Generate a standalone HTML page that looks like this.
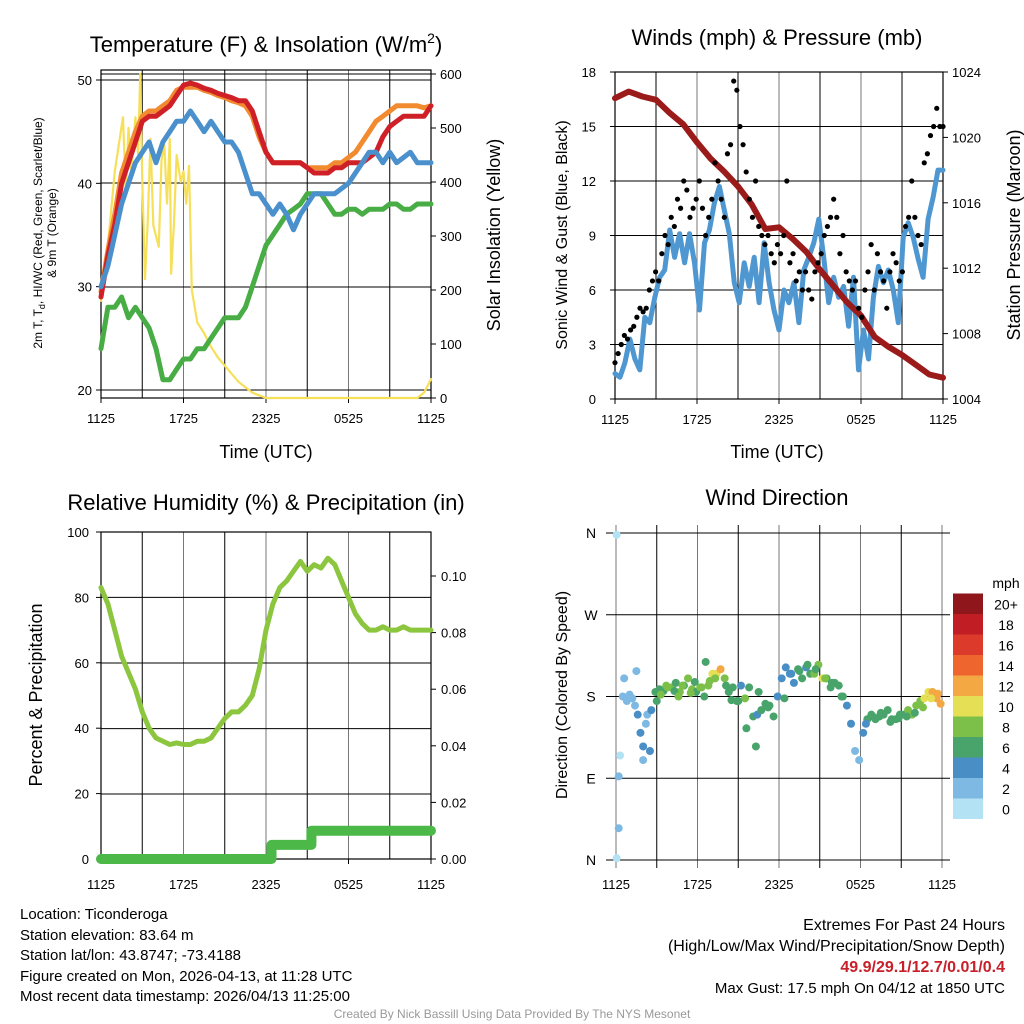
<!DOCTYPE html>
<html><head><meta charset="utf-8">
<style>
body{margin:0;background:#fff;font-family:"Liberation Sans",sans-serif;}
svg text{font-family:"Liberation Sans",sans-serif;fill:#000;}
.info{position:absolute;font-size:15px;line-height:20.5px;}
</style></head>
<body>
<svg id="chart" width="1024" height="1024" viewBox="0 0 1024 1024" style="position:absolute;left:0;top:0"></svg>
<div class="info" style="left:20px;top:905px;">
Location: Ticonderoga<br>Station elevation: 83.64 m<br>Station lat/lon: 43.8747; -73.4188<br>Figure created on Mon, 2026-04-13, at 11:28 UTC<br>Most recent data timestamp: 2026/04/13 11:25:00</div>
<div class="info" style="right:19px;top:915px;text-align:right;line-height:21px;font-size:16px;">
Extremes For Past 24 Hours<br>(High/Low/Max Wind/Precipitation/Snow Depth)<br><b style="color:#c8202a">49.9/29.1/12.7/0.01/0.4</b><br><span style="font-size:15px">Max Gust: 17.5 mph On 04/12 at 1850 UTC</span></div>
<div style="position:absolute;left:0;width:1024px;top:1007px;text-align:center;font-size:12px;color:#999;">Created By Nick Bassill Using Data Provided By The NYS Mesonet</div>
<script>
// ---------- data (starting 1125 UTC, evenly spaced over 24 h) ----------
const xTickLabels=["1125","1725","2325","0525","1125"];
const tempRed=[29,33,36,40,42,44,46,46.5,46.5,47,47.5,48.5,49.5,49.7,49.5,49.2,49,48.7,48.5,48.3,48,48,47,45,43,42,42,42,42,42,41.5,41,41,41,41.5,41.5,42,42,42,42.5,43,44.5,45.5,46,46.5,46.5,46.5,46.5,47.5];
const tempOrange=[29.5,33.5,37,41,43,45,46.5,47,47,47.5,48,49,49.3,49.3,49.3,49,48.8,48.5,48.3,48,47.8,47.5,46.5,44.5,43,42,42,42,42,42,41.5,41.5,41.5,41.5,42,42,42.5,43,44,45,46,46.5,47,47.5,47.5,47.5,47.5,47.3,47.5];
const tempBlue=[30,32,35,38,40,42,43,44,42,44,45,46,46,47,46,45,46,45,44,44,43,41,39,39,38,37,38,37,35.5,37,38,39,39,39,39,39.5,40,41,42,43,43,42,43,42,42.5,43,42,42,42];
const dewGreen=[24,28,28,29,27,28,27,26,24,21,21,22,23,23,24,24,25,26,27,27,27,28,30,32,34,35,36,37,37.5,38,39,39,39,38,37,37,37.5,37.5,37,37.5,37.5,37.5,38,38,37.5,37.5,38,38,38];
const solarHours=[0,0.3,0.6,1,1.3,1.6,1.8,2,2.2,2.5,2.7,2.85,3,3.2,3.4,3.6,3.8,4,4.2,4.4,4.6,4.8,5,5.1,5.3,5.5,5.8,6,6.2,6.4,6.6,7,7.5,8,8.5,9,9.5,10,10.5,11,11.5,12,16,20,23,23.5,24];
const solarVals=[180,240,310,420,470,520,380,500,420,520,450,600,400,220,330,480,320,300,280,440,470,360,480,230,320,450,400,420,360,430,200,140,120,95,75,60,45,30,20,10,5,0,0,0,0,10,35];
const windBlue=[1.4,1.2,2,3.3,2.2,1.6,4.5,4.2,5.6,6.7,7.1,9.3,7.8,9.1,7.5,9.1,7.5,4.9,8.6,9.3,10.8,11.7,10.4,9.1,6.4,5.3,7.5,6.2,7.8,5.3,8.6,6.4,4.9,3.8,6,5.3,6.4,4.2,7.1,7.8,8.6,9.9,7.8,5.3,6.7,5.6,6.2,4,6.7,1.6,3.8,2.2,5.6,7.3,6.4,7.1,6,4.2,8.9,9.7,8.9,7.7,6.7,9.9,11.1,12.6,12.6];
const gustBlack=[2,2.5,3,3.5,3.3,3.8,4,4.5,5,4.8,5,6,6.5,7,6.5,8,9,8.5,10,9.5,11,10.5,12,11.5,10,10.5,11,12,10.5,9,10,11,13,12,11,10,13.5,14,17.5,17,15,14,12.5,11,10,12,9.5,9,8.5,9,8,7.5,8.5,8,9,12,7.5,8,6.5,7,6,7,6,5.5,7,7.5,8,9,9.5,10,11,10,8,9,7,6.5,6,6.5,5,4.5,6,7,8.5,6,8,7,6.5,5,7,8,7.5,6.5,7,9.5,10,12,10,9,8.5,13,13.5,14.5,15,16,15,15];
const pressure=[1022.4,1022.8,1022.5,1022.3,1021.5,1020.8,1019.7,1018.7,1017.9,1017.0,1015.9,1014.4,1014.5,1013.8,1013.0,1011.9,1010.9,1009.9,1009.1,1007.8,1007.2,1006.7,1006.1,1005.5,1005.3];
const rhGreen=[83,78,70,62,57,52,45,40,37,36,35,35.5,35,35,36,36,37,40,43,45,45,47,50,58,70,78,83,85,88,91,88,90,89,92,90,85,80,75,72,70,70,71,70,70,71,70,70,70,70];
const precipHours=[0,12.4,12.4,15.3,15.3,24];
const precipVals=[0,0,0.005,0.005,0.01,0.01];
const dirHours=[0.05,0.05,0.2,0.2,0.3,0.5,0.6,0.8,1.0,1.2,1.4,1.6,1.8,2.0,2.3,2.6,2.9,3.2,3.5,3.8,4.1,4.4,4.7,5.0,5.3,5.6,5.9,6.2,6.5,6.8,7.1,7.4,7.7,8.0,8.3,8.6,8.9,9.2,9.5,9.8,10.1,10.4,10.7,11.0,11.3,11.6,11.9,12.2,12.5,12.8,13.1,13.4,13.7,14.0,14.3,14.6,14.9,15.2,15.5,15.8,16.1,16.4,16.7,17.0,17.3,17.6,17.9,18.2,18.5,18.8,19.1,19.4,19.7,20.0,20.3,20.6,20.9,21.2,21.5,21.8,22.1,22.4,22.7,23.0,23.3,23.6,23.9,1.5,2.2,2.5,2.0,6.6,9.0,9.6,10.3,
3.0,3.3,3.7,4.3,4.6,4.9,5.5,5.8,6.3,6.9,7.3,8.1,8.5,10.5,11.2,12.4,12.9,13.5,14.1,14.7,15.4,15.9,16.6,18.4,18.9,19.5,20.2,20.8,21.4,22.0,22.6,23.2,23.7];
const dirDegs=[358,2,92,35,115,180,200,175,182,178,170,160,140,110,160,165,185,188,186,190,190,195,185,192,200,188,185,190,180,192,205,205,210,200,185,190,175,192,178,190,158,160,165,172,170,158,180,200,212,205,195,210,200,212,205,205,215,200,200,190,195,192,180,170,150,120,110,140,155,160,155,158,160,165,155,155,160,160,165,160,170,175,178,185,185,178,172,208,150,120,125,218,175,145,125,
175,182,192,186,180,192,184,196,190,197,200,192,176,185,168,178,205,208,215,210,200,195,180,150,158,162,152,156,158,162,168,178,183];
const dirSpeeds=[1,1,2,2,1,2,2,2,2,3,2,4,4,3,3,4,6,6,7,8,8,7,8,7,8,8,6,8,6,8,10,11,12,9,7,6,6,4,8,7,6,5,6,6,7,6,4,5,4,4,5,6,7,5,6,8,8,10,7,7,6,6,6,4,4,3,3,4,6,6,6,6,6,7,6,7,7,7,8,8,8,9,10,11,12,12,12,2,3,4,4,6,6,6,6,
6,8,8,7,8,8,8,7,8,8,9,7,6,6,7,6,4,6,6,7,8,7,7,4,6,6,6,6,7,7,8,10,12];
const speedBins=["0","2","4","6","8","10","12","14","16","18","20+"];
const speedColors=["#b4e2f5","#7db9e2","#4a8ec6","#49a46b","#7cc049","#e5df55","#f4a843","#ee652e","#dc3a2a","#c01e24","#8f161a"];

// ---------- helpers ----------
const NS="http://www.w3.org/2000/svg";
const svg=document.getElementById('chart');
function mk(tag,attrs,parent){const e=document.createElementNS(NS,tag);for(const k in attrs)e.setAttribute(k,attrs[k]);(parent||svg).appendChild(e);return e;}
function txt(s,x,y,size,anchor,parent,rot){const t=mk('text',{x:x,y:y,'font-size':size,'text-anchor':anchor||'middle'},parent);if(rot)t.setAttribute('transform','rotate(-90 '+x+' '+y+')');t.textContent=s;return t;}
function lin(x0,x1,d0,d1){return v=>x0+(v-d0)/(d1-d0)*(x1-x0);}

function panel(name,L,R,T,B,xs,labOff,hGridPx){
  const g=mk('g',{});
  
  
  for(let i=0;i<=8;i++){const x=xs(i*3);mk('line',{x1:x,x2:x,y1:T,y2:B,stroke:(i%2? '#000':'#777'),'stroke-width':1},g);}
  hGridPx.forEach(y=>mk('line',{x1:L,x2:R,y1:y,y2:y,stroke:'#000','stroke-width':1},g));
  mk('rect',{x:L,y:T,width:R-L,height:B-T,fill:'none',stroke:'#000','stroke-width':1.2},g);
  xTickLabels.forEach((s,i)=>{const x=xs(i*6);mk('line',{x1:x,x2:x,y1:B,y2:B+5,stroke:'#000'},g);const t=txt(s,x,B+labOff,13,'middle',g);});
  return g;
}
function path(g,pts,color,w,nm){const p=mk('polyline',{points:pts.map(p=>p[0].toFixed(1)+','+p[1].toFixed(1)).join(' '),fill:'none',stroke:color,'stroke-width':w,'stroke-linejoin':'round','stroke-linecap':'round'},g);return p;}

// ---------- Panel 1: temperature ----------
(function(){
  const L=101,R=431,T=70,B=398;
  const xs=lin(L,R,0,24), yT=lin(390,80,20,50), yS=lin(398,74,0,600);
  const g=panel('temperature-panel',L,R,T,B,xs,25,[80,183,287,390,74]);
  [20,30,40,50].forEach(v=>{const y=yT(v);mk('line',{x1:L-5,x2:L,y1:y,y2:y,stroke:'#000'},g);txt(v,L-9,y+5,13,'end',g);});
  [0,100,200,300,400,500,600].forEach(v=>{const y=yS(v);mk('line',{x1:R,x2:R+5,y1:y,y2:y,stroke:'#000'},g);txt(v,R+9,y+5,13,'start',g);});
  path(g,solarHours.map((h,i)=>[xs(h),yS(solarVals[i])]),'#f6e05a',2.2,'solar-insolation-line');
  path(g,dewGreen.map((v,i)=>[xs(i/2),yT(v)]),'#49ad45',5,'dewpoint-line');
  path(g,tempOrange.map((v,i)=>[xs(i/2),yT(v)]),'#f28a30',5,'temp-9m-line');
  path(g,tempRed.map((v,i)=>[xs(i/2),yT(v)]),'#cf2027',5,'temp-2m-line');
  path(g,tempBlue.map((v,i)=>[xs(i/2),yT(v)]),'#4a90cc',5,'heat-index-windchill-line');
  const t=mk('text',{x:266,y:52,'font-size':22,'text-anchor':'middle'},g);t.innerHTML='Temperature (F) &amp; Insolation (W/m<tspan font-size="14" dy="-9">2</tspan><tspan dy="9">)</tspan>';
  txt('Time (UTC)',266,458,18,'middle',g);
  const a=mk('text',{x:42,y:233,'font-size':12,'text-anchor':'middle',transform:'rotate(-90 42 233)'},g);a.innerHTML='2m T, T<tspan font-size="9" dy="3">d</tspan><tspan dy="-3">, HI/WC (Red, Green, Scarlet/Blue)</tspan>';
  txt('& 9m T (Orange)',56,233,12,'middle',g,true);
  txt('Solar Insolation (Yellow)',500,235,18,'middle',g,true);
})();

// ---------- Panel 2: winds ----------
(function(){
  const L=615,R=943,T=72,B=399;
  const xs=lin(L,R,0,24), yW=lin(399,72,0,18), yP=lin(399,72,1004,1024);
  const g=panel('winds-panel',L,R,T,B,xs,25,[72,126.5,181,235.5,290,344.5]);
  [0,3,6,9,12,15,18].forEach(v=>{const y=yW(v);mk('line',{x1:L-5,x2:L,y1:y,y2:y,stroke:'#000'},g);txt(v,L-19,y+5,13,'end',g);});
  [1004,1008,1012,1016,1020,1024].forEach(v=>{const y=yP(v);mk('line',{x1:R,x2:R+5,y1:y,y2:y,stroke:'#000'},g);txt(v,R+9,y+5,13,'start',g);});
  path(g,windBlue.map((v,i)=>[xs(i*24/(windBlue.length-1)),yW(v)]),'#4f97d1',5,'sonic-wind-line');
  path(g,pressure.map((v,i)=>[xs(i),yP(v)]),'#9b1b1b',6,'pressure-line');
  gustBlack.forEach((v,i)=>{const c=mk('circle',{cx:xs(i*24/(gustBlack.length-1)),cy:yW(v),r:2.6,fill:'#000'},g);});
  txt('Winds (mph) & Pressure (mb)',777,45,22,'middle',g);
  txt('Time (UTC)',777,458,18,'middle',g);
  txt('Sonic Wind & Gust (Blue, Black)',567,235,16,'middle',g,true);
  txt('Station Pressure (Maroon)',1020,235,18,'middle',g,true);
})();

// ---------- Panel 3: RH ----------
(function(){
  const L=101,R=431,T=532,B=859;
  const xs=lin(L,R,0,24), yR=lin(859,532,0,100), yPr=lin(859,576,0,0.1);
  const g=panel('humidity-panel',L,R,T,B,xs,30,[597.4,663,728.6,794]);
  [0,20,40,60,80,100].forEach(v=>{const y=yR(v);mk('line',{x1:L-5,x2:L,y1:y,y2:y,stroke:'#000'},g);txt(v,L-12,y+5,13,'end',g);});
  ['0.00','0.02','0.04','0.06','0.08','0.10'].forEach(s=>{const y=yPr(+s);mk('line',{x1:R,x2:R+5,y1:y,y2:y,stroke:'#000'},g);txt(s,R+10,y+5,13,'start',g);});
  path(g,rhGreen.map((v,i)=>[xs(i/2),yR(v)]),'#8cc63e',5,'relative-humidity-line');
  path(g,precipHours.map((h,i)=>[xs(h),yPr(precipVals[i])]),'#4cb848',10,'precipitation-line');
  txt('Relative Humidity (%) & Precipitation (in)',266,510,22,'middle',g);
  txt('Percent & Precipitation',42,695,18,'middle',g,true);
})();

// ---------- Panel 4: wind direction ----------
(function(){
  const L=606,R=950,T=533,B=860;
  const xs=lin(616,942,0,24), yD=lin(860,533,0,360);
  const g=mk('g',{});
  
  
  for(let i=0;i<=8;i++){const x=xs(i*3);mk('line',{x1:x,x2:x,y1:T-8,y2:B+8,stroke:(i%2?'#000':'#777'),'stroke-width':1},g);}
  [['N',0],['E',90],['S',180],['W',270],['N',360]].forEach(d=>{const y=yD(d[1]);mk('line',{x1:L,x2:R,y1:y,y2:y,stroke:'#000'},g);txt(d[0],591,y+5,14,'middle',g);});
  xTickLabels.forEach((s,i)=>{txt(s,xs(i*6),889,13,'middle',g);});
  dirHours.forEach((h,i)=>{let k=Math.min(10,Math.floor(dirSpeeds[i]/2));const c=mk('circle',{cx:xs(h),cy:yD(dirDegs[i]),r:4,fill:speedColors[k]},g);});
  txt('Wind Direction',777,505,22,'middle',g);
  txt('Direction (Colored By Speed)',567,695,16,'middle',g,true);
  const lg=mk('g',{},g);
  
  
  txt('mph',1006,588,14,'middle',lg);
  speedColors.forEach((c,i)=>{const y=819-(i+1)*20.5;mk('rect',{x:953,y:y,width:30,height:20.5,fill:c},lg);txt(speedBins[i],1006,y+16,14,'middle',lg);});
})();
</script>
</body></html>
